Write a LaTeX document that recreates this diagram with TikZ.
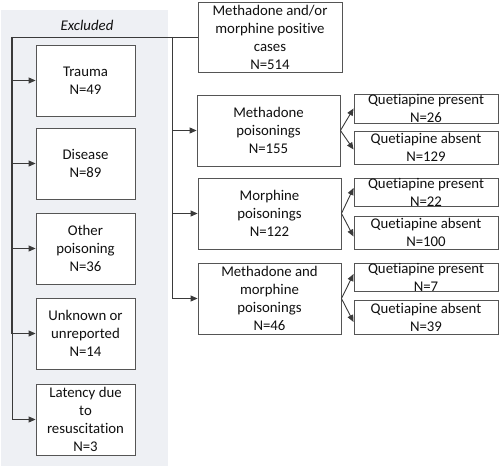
\documentclass[tikz,border=0pt]{standalone}
\usepackage{fontspec}
\setmainfont{Carlito}[Ligatures=NoCommon]
\usetikzlibrary{arrows.meta}
\definecolor{panel}{HTML}{EEF0F4}
\definecolor{ln}{HTML}{3A3A3A}
\definecolor{bd}{HTML}{555555}
\definecolor{tx}{HTML}{101010}
\begin{document}
\begin{tikzpicture}[x=1pt,y=-1pt,
  font=\fontsize{14.8pt}{18pt}\selectfont,
  box/.style={draw=bd,line width=0.9pt,fill=white,text=tx,align=center,inner sep=0pt},
  bigbox/.style={box,minimum width=143pt,minimum height=71pt},
  exbox/.style={box,minimum width=99pt,minimum height=71pt},
  qbox/.style={draw=bd,line width=0.9pt,fill=white,minimum width=144pt,inner sep=0pt},
  qtext/.style={text=tx,align=center,inner sep=0pt},
  conn/.style={draw=ln,line width=0.9pt},
  arr/.style={conn,-{Triangle[length=7pt,width=6pt]}}]
\useasboundingbox (0,0) rectangle (500,468);
\fill[panel] (1,10) rectangle (168,466);
\node[text=tx] (exl) at (87,25) {\itshape Excluded};
% main
\node[bigbox,minimum width=144pt,minimum height=70pt] (main) at (270,37) {Methadone and/or\\morphine positive\\cases\\N=514};
% excluded
\node[exbox] (trauma) at (85.5,80.5) {Trauma\\N=49};
\node[exbox] (disease) at (85.5,163.5) {Disease\\N=89};
\node[exbox] (other) at (85.5,248.5) {Other\\poisoning\\N=36};
\node[exbox] (unknown) at (85.5,333.5) {Unknown or\\unreported\\N=14};
\node[exbox] (latency) at (85.5,419.5) {Latency due\\to\\resuscitation\\N=3};
% poisonings
\node[bigbox] (meth) at (268.5,130.5) {Methadone\\poisonings\\N=155};
\node[bigbox] (morph) at (269.5,213.5) {Morphine\\poisonings\\N=122};
\node[bigbox] (comb) at (269.5,298.5) {Methadone and\\morphine\\poisonings\\N=46};
% quetiapine
\node[qbox,minimum height=29pt] (p1) at (426,108.5) {};
\node[qtext] (p1t) at (p1.center) {Quetiapine present\\N=26};
\node[qbox,minimum height=33pt] (a1) at (426,147.5) {};
\node[qtext] (a1t) at (a1.center) {Quetiapine absent\\N=129};
\node[qbox,minimum height=28pt] (p2) at (426,192) {};
\node[qtext] (p2t) at (p2.center) {Quetiapine present\\N=22};
\node[qbox,minimum height=33pt] (a2) at (426,232.5) {};
\node[qtext] (a2t) at (a2.center) {Quetiapine absent\\N=100};
\node[qbox,minimum height=28pt] (p3) at (426,277) {};
\node[qtext] (p3t) at (p3.center) {Quetiapine present\\N=7};
\node[qbox,minimum height=34pt] (a3) at (426,317) {};
\node[qtext] (a3t) at (a3.center) {Quetiapine absent\\N=39};
% trunk lines
\coordinate (L0) at (12,37);
\coordinate (R0) at (172,37);
\draw[conn] (main.west) -- (L0);
\draw[conn,line width=1.8pt] (L0) -- (L0 |- unknown.west);
\draw[conn] (L0 |- unknown.west) -- (L0 |- latency.west);
\draw[conn] (R0) -- (R0 |- comb.west);
\foreach \n in {trauma,disease,other,unknown,latency}
  \draw[arr] (L0 |- \n.west) -- (\n.west);
\foreach \n in {meth,morph,comb}
  \draw[arr] (R0 |- \n.west) -- (\n.west);
% forks
\draw[arr] (meth.east) -- ([yshift=0pt]p1.west);
\draw[arr] (meth.east) -- ([yshift=-2pt]a1.west);
\draw[arr] (morph.east) -- ([yshift=4pt]p2.west);
\draw[arr] (morph.east) -- ([yshift=-4pt]a2.west);
\draw[arr] (comb.east) -- ([yshift=3pt]p3.west);
\draw[arr] (comb.east) -- ([yshift=-5pt]a3.west);
\end{tikzpicture}
\end{document}
